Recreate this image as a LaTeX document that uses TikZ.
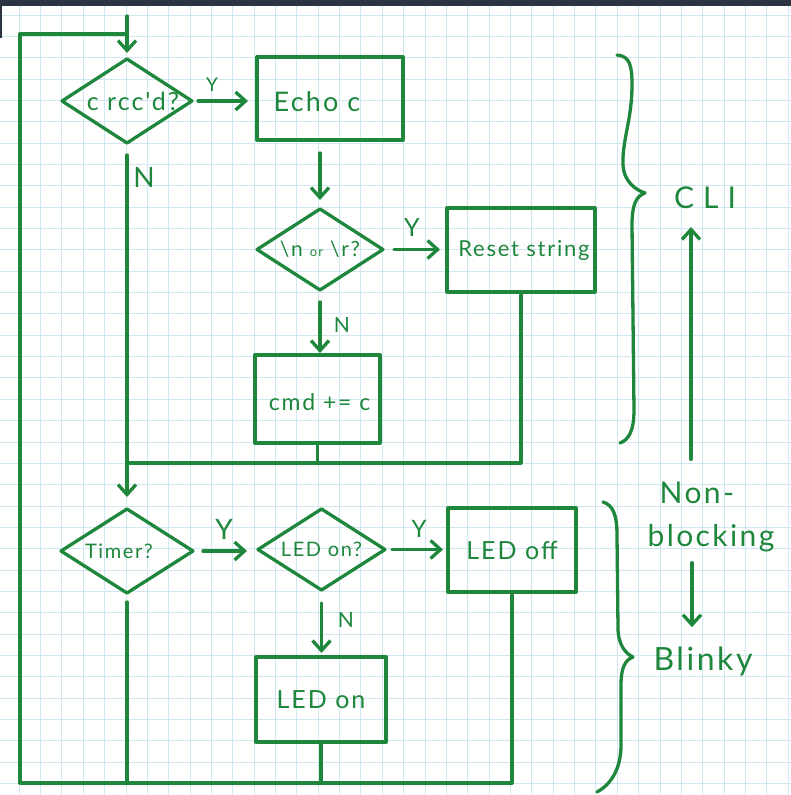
\documentclass[tikz,border=0pt]{standalone}
\usepackage{fontspec}
\setmainfont{Lato}
\newfontfamily\handf[LetterSpace=8]{Lato}
\newfontfamily\widehandf[LetterSpace=30]{Lato}
\usetikzlibrary{arrows.meta,shapes.geometric}
\definecolor{ink}{RGB}{30,135,60}
\definecolor{gridblue}{RGB}{208,231,242}
\definecolor{topbar}{RGB}{44,51,65}
\newcommand\hand[1]{\handf\fontsize{#1}{#1}\selectfont}
\newcommand\widehand[1]{\widehandf\fontsize{#1}{#1}\selectfont}

\begin{document}
\begin{tikzpicture}[x=1pt,y=-1pt,
  stroke/.style={draw=ink, line width=3.3pt, line cap=round, line join=round},
  arr/.style={stroke, -{Straight Barb[length=10pt,width=18pt]}},
  dia/.style={stroke, shape=diamond, inner sep=0pt, outer sep=0pt},
  box/.style={stroke, rectangle, inner sep=0pt, outer sep=0pt},
  lbl/.style={text=ink, inner sep=0pt},
  note/.style={text=ink, inner sep=0pt, anchor=base},
]
% paper
\useasboundingbox (0,0) rectangle (791,795);
\fill[white] (0,0) rectangle (791,795);
\foreach \k in {0,...,36}
  \draw[gridblue, line width=1pt] ({19.2+21.36*\k},0) -- ++(0,795);
\foreach \k in {0,...,36}
  \draw[gridblue, line width=1pt] (0,{15+21.35*\k}) -- ++(791,0);
\fill[topbar] (0,0) rectangle (791,6);
\fill[topbar] (0,0) rectangle (2,38);

% ---- CLI part ----
\node[dia, minimum width=130pt, minimum height=84pt,
  label={[lbl,font=\hand{25},xshift=6pt]center:{c rcc'd?}}] (d1) at (127,101) {};
\node[box, minimum width=146pt, minimum height=83pt,
  label={[lbl,font=\hand{27},xshift=-13pt,yshift=-3pt]center:{Echo c}}] (echo) at (330,98.5) {};
\node[dia, minimum width=126pt, minimum height=81pt,
  label={[lbl,font=\hand{21}]center:{\textbackslash n {\hand{13}or} \textbackslash r?}}] (d2) at (320,249.5) {};
\node[box, minimum width=148pt, minimum height=84pt,
  label={[lbl,font=\hand{22},xshift=3pt]center:{Reset string}}] (reset) at (521,250) {};
\node[box, minimum width=125pt, minimum height=88pt,
  label={[lbl,font=\hand{23},xshift=2pt,yshift=-3pt]center:{cmd += c}}] (cmd) at (317.5,399) {};

% ---- Blinky part ----
\node[dia, minimum width=132pt, minimum height=84pt,
  label={[lbl,font=\hand{20},xshift=-8pt]center:{Timer?}}] (timer) at (127,551) {};
\node[dia, minimum width=127pt, minimum height=81pt,
  label={[lbl,font=\hand{20}]center:{LED on?}}] (ledq) at (321.5,549.5) {};
\node[box, minimum width=128pt, minimum height=84pt,
  label={[lbl,font=\hand{25}]center:{LED off}}] (ledoff) at (512,550) {};
\node[box, minimum width=130pt, minimum height=85pt,
  label={[lbl,font=\hand{25}]center:{LED on}}] (ledon) at (321,699.5) {};

% branch labels
\node[lbl, font=\hand{19}] (y1) at (212,85) {Y};
\node[lbl, font=\hand{28}] (n1) at (144,177) {N};
\node[lbl, font=\hand{25}] (y2) at (412,228) {Y};
\node[lbl, font=\hand{21}] (n2) at (342,325) {N};
\node[lbl, font=\hand{28}] (y3) at (224,529) {Y};
\node[lbl, font=\hand{24}] (y4) at (419,529) {Y};
\node[lbl, font=\hand{21}] (n3) at (346,620) {N};

% loop frame
\coordinate (entry) at (127,16);
\coordinate (lt) at (20,34);
\coordinate (lb) at (20,783);
\coordinate (mrg) at (127,463);
\draw[arr, shorten >=6pt] (entry) -- (d1.north);
\draw[stroke] (entry |- lt) -- (lt) -- (lb) -- (ledoff.south |- lb);

% CLI connectors
\draw[arr, shorten <=6pt, shorten >=9pt] (d1.east) -- (echo.west |- d1.east);
\draw[arr, shorten <=13pt, shorten >=9pt] (echo.south -| d2.north) -- (d2.north);
\draw[arr, shorten <=11pt, shorten >=7pt] (d2.east) -- (reset.west |- d2.east);
\draw[arr, shorten <=12pt, shorten >=2pt] (d2.south) -- (d2.south |- cmd.north);
\draw[stroke, shorten <=3pt] (reset.south) -- (reset.south |- mrg) -- (mrg);
\draw[stroke] (cmd.south) -- (cmd.south |- mrg);
\draw[arr, shorten <=12pt, shorten >=12pt] (d1.south) -- (timer.north);

% Blinky connectors
\draw[arr, shorten <=10pt, shorten >=11pt] (timer.east) -- (ledq.west |- timer.east);
\draw[arr, shorten <=7pt, shorten >=5pt] (ledq.east) -- (ledoff.west |- ledq.east);
\draw[arr, shorten <=13pt, shorten >=4pt] (ledq.south) -- (ledq.south |- ledon.north);
\draw[stroke, shorten <=9pt] (timer.south) -- (timer.south |- lb);
\draw[stroke] (ledon.south) -- (ledon.south |- lb);
\draw[stroke, shorten <=3pt] (ledoff.south) -- (ledoff.south |- lb);

% braces
\draw[stroke] (617,55) .. controls (630,56) and (632,66) .. (632,85)
  .. controls (632,120) and (622,140) .. (623,165)
  .. controls (624,182) and (636,190) .. (645,193)
  .. controls (636,196) and (632,205) .. (632,225)
  -- (634,410)
  .. controls (634,432) and (628,440) .. (620,443);
\draw[stroke] (603,502) .. controls (613,505) and (617,515) .. (617,535)
  -- (618,628)
  .. controls (618,645) and (626,654) .. (633,657)
  .. controls (625,660) and (621,668) .. (621,685)
  -- (621,745)
  .. controls (621,770) and (610,785) .. (597,792);

% side notes
\node[note, font=\widehand{30}] (cli) at (705,208) {CLI};
\node[note, font=\hand{30}] (non) at (697,503) {Non-};
\node[note, font=\hand{30}] (blk) at (711,546) {blocking};
\node[note, font=\hand{32}] (blinky) at (703,670) {Blinky};
\coordinate (upx) at (691,0);
\coordinate (dnx) at (692,0);
\draw[arr, shorten <=22pt, shorten >=19pt] (non.north -| upx) -- (cli.base -| upx);
\draw[arr, shorten <=11pt, shorten >=19pt] (blk.south -| dnx) -- (blinky.north -| dnx);
\end{tikzpicture}
\end{document}
